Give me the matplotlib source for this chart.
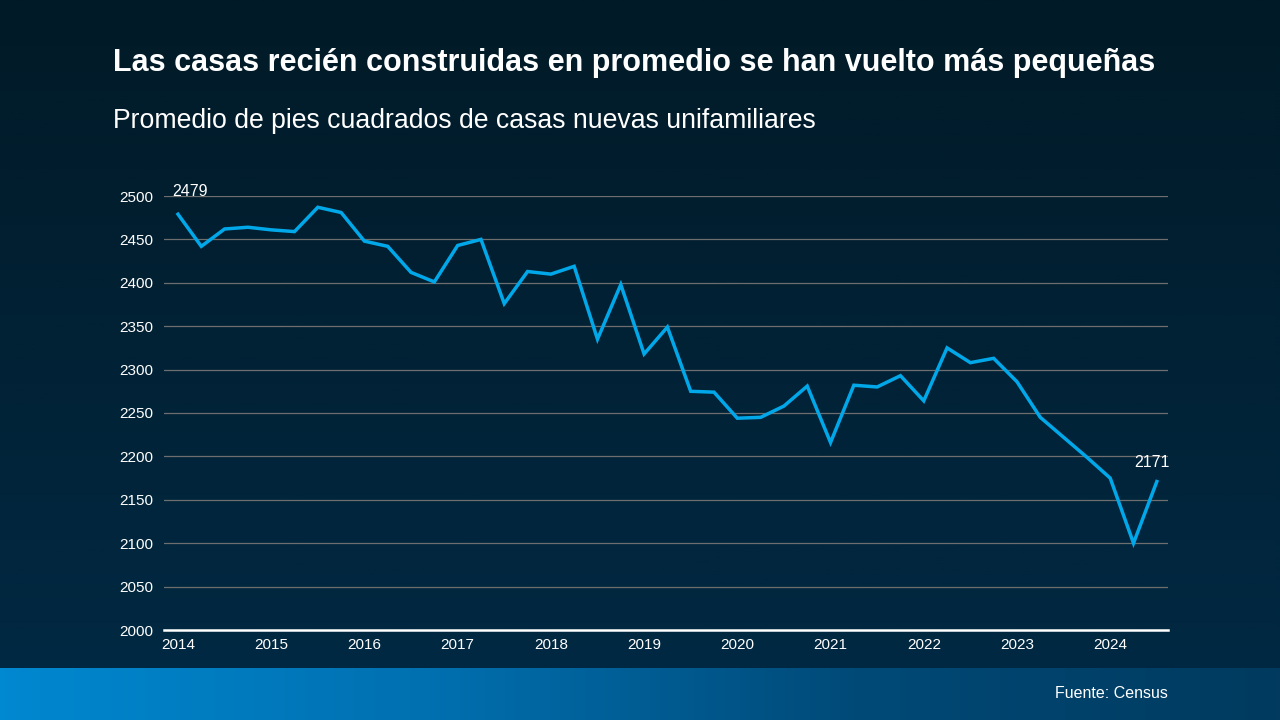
import numpy as np
import matplotlib
matplotlib.use('Agg')
import matplotlib.pyplot as plt
from matplotlib.colors import LinearSegmentedColormap

plt.rcParams['font.family'] = ['Liberation Sans', 'DejaVu Sans']

# quarterly average square footage, 2014 Q1 .. 2024 Q3
years = [2014, 2015, 2016, 2017, 2018, 2019, 2020, 2021, 2022, 2023, 2024]
sqft = [2479, 2442, 2462, 2464,
        2461, 2459, 2487, 2481,
        2448, 2442, 2412, 2401,
        2443, 2450, 2376, 2413,
        2410, 2419, 2335, 2398,
        2318, 2349, 2275, 2274,
        2244, 2245, 2258, 2281,
        2216, 2282, 2280, 2293,
        2264, 2325, 2308, 2313,
        2286, 2245, 2222, 2199,
        2175, 2100, 2171]
yticks = [2000, 2050, 2100, 2150, 2200, 2250, 2300, 2350, 2400, 2450, 2500]

title = "Las casas recién construidas en promedio se han vuelto más pequeñas"
subtitle = "Promedio de pies cuadrados de casas nuevas unifamiliares"
source = "Fuente: Census"

x = np.array([2014 + i * 0.25 for i in range(len(sqft))])

fig = plt.figure(figsize=(12.8, 7.2), dpi=100)

# background gradients
bg = fig.add_axes([0, 0, 1, 1], zorder=-10)
bg.set_xlim(0, 1)
bg.set_ylim(0, 1)
bg.axis('off')
top_cmap = LinearSegmentedColormap.from_list('bgv', ['#012a45', '#011a27'])
vgrad = np.linspace(0, 1, 256).reshape(-1, 1)
bg.imshow(vgrad, cmap=top_cmap, aspect='auto', extent=[0, 1, 0, 1], origin='lower')
foot_cmap = LinearSegmentedColormap.from_list('foot', ['#0088d0', '#0070b0', '#004a78', '#013a5e'])
hgrad = np.linspace(0, 1, 256).reshape(1, -1)
bg.imshow(hgrad, cmap=foot_cmap, aspect='auto', extent=[0, 1, 0, 52 / 720], origin='lower')

ax = fig.add_axes([164 / 1280, 90 / 720, 1004 / 1280, 434 / 720])
ax.set_facecolor('none')
ax.plot(x, sqft, color='#00a8ea', lw=2.5, solid_joinstyle='miter', zorder=3)

ax.set_xlim(2013.85, 2024.62)
ax.set_ylim(2000, 2500)
ax.set_yticks(yticks)
ax.set_xticks(years)
ax.grid(axis='y', color='#6e6e6e', lw=0.9)
ax.tick_params(colors='white', labelsize=11, length=0, pad=8)
for s in ['top', 'right', 'left']:
    ax.spines[s].set_visible(False)
ax.spines['bottom'].set_color('white')
ax.spines['bottom'].set_linewidth(1.8)
ax.spines['bottom'].set_zorder(4)
ax.tick_params(axis='x', pad=6)

ax.annotate(str(sqft[0]), (x[0], sqft[0]), xytext=(-4, 11), textcoords='offset points',
            color='white', fontsize=11.5, ha='left', va='bottom')
ax.annotate(str(sqft[-1]), (x[-1], sqft[-1]), xytext=(-16, 8), textcoords='offset points',
            color='white', fontsize=11.5, ha='left', va='bottom')

fig.text(113 / 1280, 1 - 63 / 720, title, color='white', fontsize=22, fontweight='bold',
         va='center', ha='left')
fig.text(113 / 1280, 1 - 121 / 720, subtitle, color='white', fontsize=19.2,
         va='center', ha='left')
fig.text(1168 / 1280, 1 - 694 / 720, source, color='white', fontsize=11.5,
         va='center', ha='right')

plt.savefig('out.png', dpi=100)
